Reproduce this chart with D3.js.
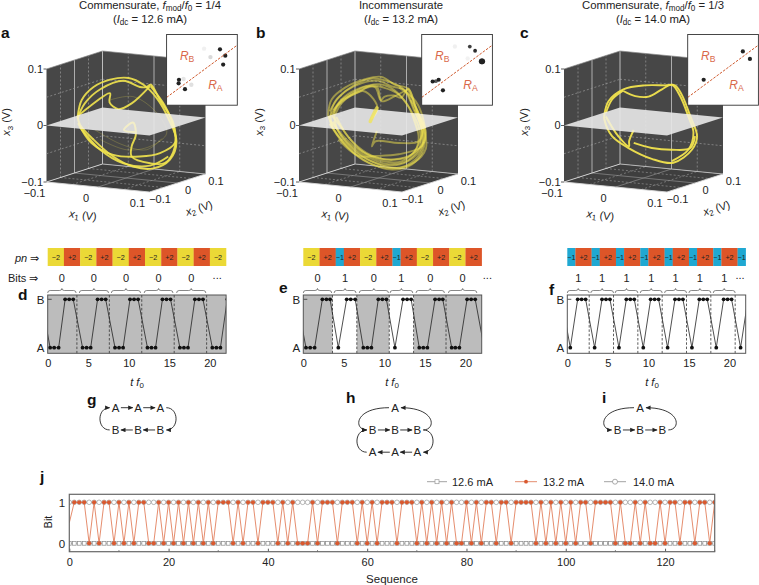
<!DOCTYPE html>
<html><head><meta charset="utf-8">
<style>html,body{margin:0;padding:0;background:#fff}svg{display:block}text{font-family:"Liberation Sans",Arial,sans-serif;fill:#222}</style>
<script src="https://cdn.jsdelivr.net/npm/d3@7"></script></head><body>
<script>
// ---------- DATA ----------
const axisTicks3D=[-0.1,0,0.1];
const gridValues=[-0.05,0,0.05];
// projected phase-space strands [x, x3] in mV
const strandsA=[
[[-94,8],[-86,38],[-63,61],[-31,74],[5,77],[34,65],[60,41],[82,6],[98,-35],[85,-68],[53,-83],[14,-80],[-25,-62],[-63,-32],[-89,-6],[-94,8]],
[[-94,6],[-80,32],[-50,57],[-5,72],[27,61],[40,61],[48,65],[66,38],[92,-3],[95,-44],[76,-73],[47,-74],[11,-62],[11,-44],[19,-24],[14,-2],[-4,-15],[21,-19]],
[[-94,9],[-70,27],[-31,50],[-32,34],[-15,22],[11,32],[47,63]],
[[-93,-3],[-67,-38],[-25,-59],[27,-62],[66,-56],[95,-38],[92,-9],[76,27],[48,62]],
[[-90,-9],[-50,-50],[-5,-74],[47,-78],[82,-62]]];
const faintA=[[[-50,-32],[1,-50],[47,-44],[79,-21],[60,15],[14,44],[-31,38]],[[-60,-15],[-10,-40],[40,-50],[70,-30]]];
const strandsB=[
[[-98,12],[-91,39],[-65,60],[-26,75],[6,79],[32,65],[58,58],[71,27],[87,-11],[87,-50],[65,-76],[26,-85],[-19,-73],[-58,-47],[-87,-14],[-98,12]],
[[-93,14],[-84,36],[-62,55],[-32,68],[0,72],[26,62],[52,55],[66,30],[82,-8],[84,-44],[58,-70],[20,-78],[-22,-67],[-62,-40],[-90,-8],[-93,14]],
[[-86,16],[-76,34],[-52,50],[-24,62],[-6,60],[4,38],[12,44],[30,46],[44,42],[58,58],[74,20],[90,-20],[92,-48],[70,-72],[30,-82],[-14,-70],[-52,-46],[-80,-14],[-86,16]],
[[-90,10],[-70,38],[-38,52],[-14,64],[10,60],[36,50],[56,30],[70,0],[78,-30],[66,-58],[28,-68],[-14,-60],[-50,-36],[-76,-6],[-90,10]],
[[-96,6],[-80,28],[-56,44],[-30,54],[-10,40],[-2,22],[-14,4]],
[[-78,-32],[-39,-61],[-6,-61],[39,-58],[84,-44],[92,-20],[78,15],[57,57]],
[[-3,-17],[-13,-44],[-6,-35],[39,-38],[78,-35],[87,-8],[71,21]],
[[-84,12],[-71,33],[-39,54],[-3,61],[6,36],[32,45],[57,57]],
[[-94,2],[-72,-22],[-44,-46],[-4,-64],[40,-66],[74,-52],[90,-30],[88,0],[72,36],[40,60]],
[[-88,20],[-66,44],[-34,60],[2,66],[30,56],[60,24],[80,-16],[80,-46],[50,-72],[10,-74],[-30,-58],[-68,-30],[-88,0]],
[[-95,18],[-78,42],[-48,64],[-12,76],[22,70],[50,56],[68,22],[86,-20],[82,-54],[54,-78],[14,-82],[-30,-68],[-70,-36],[-95,-4]],
[[-82,8],[-60,-26],[-30,-54],[8,-70],[46,-70],[76,-44],[84,-14],[76,18],[62,38]]];
const thickB=[[-16,0],[-10,12],[-3,24]];
const strandsC=[
[[-76,12],[-68,36],[-39,57],[3,64],[42,64],[61,64],[74,48],[91,9],[104,-26],[94,-50],[58,-73],[16,-66],[-29,-47],[-61,-26],[-76,4],[-76,12]],
[[-39,54],[-16,45],[10,44],[36,57],[55,65],[71,45],[87,9],[97,-20],[87,-50],[55,-70]],
[[-73,15],[-61,39],[-39,55]],
[[-73,9],[-49,-26],[-28,-44],[-28,-35],[-19,-15]],
[[-19,-38],[16,-47],[55,-50],[91,-47],[100,-26]]];
// return-map points [u, v, weight]
const insetA=[[.755,.79,1],[.83,.70,1],[.80,.575,1],[.175,.36,1],[.17,.31,1],[.26,.226,1],[.62,.68,.15],[.53,.8,.06],[.35,.29,.12],[.24,.37,.1]];
const insetB=[[.68,.83,.8],[.755,.77,.9],[.85,.62,1.4],[.855,.62,1.4],[.155,.335,1],[.24,.36,1],[.2,.34,.7],[.30,.21,1],[.47,.83,.06],[.65,.66,.05]];
const insetC=[[.78,.76,1],[.88,.655,1],[.226,.36,1]];
// pulse numbers
const pnD=[-2,2,-2,2,-2,2,-2,2,-2,2,-2];
const pnE=[-2,2,-1,2,-2,2,-1,2,-2,2,-2,2];
const pnF=[-1,2,-1,2,-1,2,-1,2,-1,2,-1,2,-1,2,-1];
const bitsD=[0,0,0,0,0], bitsE=[0,1,0,1,0,0], bitsF=[1,1,1,1,1,1,1];
const bracesD=[[0,3.5],[3.9,7.5],[7.85,11.45],[11.9,15.45],[15.9,19.5]];
const bracesE=[[0,3.5],[3.8,6.5],[6.9,10.5],[10.7,13.5],[13.9,17.4],[17.9,21.4]];
const bracesF=[[0,2.7],[2.9,5.7],[5.9,8.7],[9,11.7],[12,14.7],[15,17.7],[18,20.7]];
const boundsD=[3.6,7.6,11.6,15.6,19.6];
const boundsE=[3.6,6.6,10.6,13.6,17.6];
const boundsF=[2.7,5.7,8.7,11.7,14.7,17.7,20.7];
const shadeD=[[0,22]], shadeE=[[0,3.6],[6.6,10.6],[13.6,22]], shadeF=[];
const tD=[-0.8,.3,.8,1.35,2.15,2.65,3.15,4.3,4.8,5.3,6.15,6.65,7.15,8.3,8.8,9.3,10.15,10.65,11.15,12.3,12.8,13.3,14.15,14.65,15.15,16.3,16.8,17.3,18.15,18.65,19.15,20.3,20.8,21.3,22.15];
const sD=[1,0,0,0,1,1,1,0,0,0,1,1,1,0,0,0,1,1,1,0,0,0,1,1,1,0,0,0,1,1,1,0,0,0,1];
const tE=[-0.8,.33,.85,1.4,2.35,2.85,3.3,4.32,5.35,5.85,6.4,7.4,7.9,8.4,9.25,9.75,10.25,11.3,12.3,12.8,13.3,14.3,14.8,15.3,16.25,16.75,17.2,18.3,18.75,19.25,20.2,20.7,21.2,22.3];
const sE=[1,0,0,0,1,1,1,0,1,1,1,0,0,0,1,1,1,0,1,1,1,0,0,0,1,1,1,0,0,0,1,1,1,0];
const tF=[-0.7,.37,1.28,1.77,2.26,3.37,4.28,4.77,5.26,6.37,7.28,7.77,8.26,9.37,10.28,10.77,11.26,12.37,13.28,13.77,14.26,15.37,16.28,16.77,17.26,18.37,19.28,19.77,20.26,21.37,22.28];
const sF=[1,0,1,1,1,0,1,1,1,0,1,1,1,0,1,1,1,0,1,1,1,0,1,1,1,0,1,1,1,0,1];
const timeTicks=[0,5,10,15,20];
// state graphs
const graphG={nodes:[["A",0,0],["A",1,0],["A",2,0],["B",0,1],["B",1,1],["B",2,1]],
 straight:[[0,1,0],[1,2,0],[5,4,1],[4,3,1]],curved:[[2,5,1],[3,0,-1]]};
const graphH={nodes:[["A",1,0],["B",0,1],["B",1,1],["B",2,1],["A",2,2],["A",1,2],["A",0,2]],
 straight:[[1,2,1],[2,3,1],[4,5,0],[5,6,0]],curved:[[3,0,1],[0,1,-1],[3,4,1],[6,1,-1]]};
const graphI={nodes:[["A",1,0],["B",0,1],["B",1,1],["B",2,1]],
 straight:[[1,2,1],[2,3,1]],curved:[[3,0,1],[0,1,-1]]};
// panel j: sequence indices where the 13.2 mA bit is 0
const zeros132=[4,6,9,11,13,16,17,19,21,23,25,27,29,33,35,38,42,44,46,47,48,50,54,58,60,62,66,70,72,74,76,78,79,81,83,86,89,94,96,98,100,102,105,110,112,113,115,117,118,120,123,126,129];
const seqTicks=[0,20,40,60,80,100,120];
const seqMinor=[10,30,50,70,90,110,130];
const legendLabels=["12.6 mA","13.2 mA","14.0 mA"];

// ---------- STYLE ----------
const YEL="#f2e44e",RED="#dd5528",GOLD="#ebd936",BLUE="#1fa8d2",ORANGE="#d9684a";
const svg=d3.select("body").append("svg").attr("width",759).attr("height",585);
const defs=svg.append("defs");
defs.append("filter").attr("id","soft").append("feGaussianBlur").attr("stdDeviation",.45);
defs.append("marker").attr("id","arr").attr("viewBox","0 0 6 6").attr("refX",5.5).attr("refY",3)
 .attr("markerWidth",5.5).attr("markerHeight",5).attr("markerUnits","userSpaceOnUse").attr("orient","auto")
 .append("path").attr("d","M0,0.3L6,3L0,5.7Z").attr("fill","#222");
const minus=v=>String(v).replace("-","\u2212");
function rich(sel,parts){
  let wasSub=false;
  parts.forEach(p=>{
    const t=sel.append("tspan").text(p[0]);
    if(p[1])t.attr("font-style","italic");
    if(p[2]){t.attr("font-size","0.72em").attr("dy","0.28em");wasSub=true;}
    else if(wasSub){t.attr("dy","-0.2em");wasSub=false;}
  });
  return sel;
}
function label(x,y,size,anchor){return svg.append("text").attr("x",x).attr("y",y).attr("font-size",size).attr("text-anchor",anchor||"middle");}
[["a",1,38],["b",256,38],["c",520,38],["d",18,300],["e",279,293],["f",549,295],["g",87,405],["h",346,403],["i",602,403],["j",40,482]]
 .forEach(d=>label(d[1],d[2],15.5,"start").attr("font-weight","bold").style("fill","#111").text(d[0]));

// titles
rich(label(150,9,11.3),[["Commensurate, "],["f",1],["mod",0,1],["/"],["f",1],["0",0,1],[" = 1/4"]]);
rich(label(150,23,11.3),[["("],["I",1],["dc",0,1],[" = 12.6 mA)"]]);
label(401,9,11.3).text("Incommensurate");
rich(label(401,23,11.3),[["("],["I",1],["dc",0,1],[" = 13.2 mA)"]]);
rich(label(653,9,11.3),[["Commensurate, "],["f",1],["mod",0,1],["/"],["f",1],["0",0,1],[" = 1/3"]]);
rich(label(653,23,11.3),[["("],["I",1],["dc",0,1],[" = 14.0 mA)"]]);

// ---------- 3D PANELS ----------
const dxX1=d3.scaleLinear([-.1,.1],[-51.5,51.5]),dyX1=d3.scaleLinear([-.1,.1],[-5,5]);
const dxX2=d3.scaleLinear([-.1,.1],[-28,28]),dyX2=d3.scaleLinear([-.1,.1],[9,-9]);
const dzX3=d3.scaleLinear([-.1,.1],[56.5,-56.5]);
function panel3D(cx,strands,faint,thick,inset,insetLeft,width,opacity){
  const cy=121.5;
  const P=(a,b,c)=>[cx+dxX1(a)+dxX2(b),cy+dyX1(a)+dyX2(b)+dzX3(c)];
  const g=svg.append("g");
  const poly=(pts,fill)=>g.append("polygon").attr("points",pts.map(p=>p.join(",")).join(" ")).attr("fill",fill);
  const m=.1;
  poly([P(-m,-m,m),P(-m,m,m),P(-m,m,-m),P(-m,-m,-m)],"#474747");
  poly([P(-m,m,m),P(m,m,m),P(m,m,-m),P(-m,m,-m)],"#474747");
  poly([P(-m,-m,-m),P(-m,m,-m),P(m,m,-m),P(m,-m,-m)],"#3e3e3e");
  const seg=(a,b,col,w,dash)=>g.append("line").attr("x1",a[0]).attr("y1",a[1]).attr("x2",b[0]).attr("y2",b[1]).attr("stroke",col).attr("stroke-width",w).attr("stroke-dasharray",dash||null);
  gridValues.forEach(v=>{
    const solid=v===0,c=solid?"#b9b9b9":"#9a9a9a",w=solid?.9:.7,d=solid?null:"2,2";
    seg(P(-m,v,-m),P(-m,v,m),c,w,d);
    seg(P(v,m,-m),P(v,m,m),c,w,d);
    seg(P(v,-m,-m),P(v,m,-m),"#8e8e8e",.7,solid?null:"2,2");
    seg(P(-m,v,-m),P(m,v,-m),"#8e8e8e",.7,solid?null:"2,2");
    if(!solid){seg(P(-m,-m,v),P(-m,m,v),"#9a9a9a",.7,"2,2");seg(P(-m,m,v),P(m,m,v),"#9a9a9a",.7,"2,2");}
  });
  seg(P(-m,m,-m),P(-m,m,m),"#bdbdbd",1);
  seg(P(-m,-m,-m),P(m,-m,-m),"#d8d8d8",.9);
  seg(P(m,-m,-m),P(m,m,-m),"#d8d8d8",.9);
  seg(P(-m,-m,-m),P(-m,m,-m),"#d8d8d8",.9);
  seg(P(-m,m,-m),P(m,m,-m),"#bdbdbd",.9);
  seg(P(-m,-m,m),P(-m,m,m),"#8a8a8a",.7);
  seg(P(-m,m,m),P(m,m,m),"#8a8a8a",.7);
  // trajectory
  const ux=d3.scaleLinear([-100,100],[cx-51.5,cx+51.5]),uy=d3.scaleLinear([-100,100],[cy+56.5,cy-56.5]);
  const line=d3.line().x(d=>ux(d[0])).y(d=>uy(d[1])).curve(d3.curveCatmullRom.alpha(.5));
  g.selectAll(null).data(faint).join("path").attr("d",line).attr("fill","none").attr("stroke",YEL).attr("stroke-width",1).attr("opacity",.22);
  g.selectAll(null).data(strands).join("path").attr("d",line).attr("fill","none").attr("stroke",YEL).attr("stroke-width",width).attr("opacity",opacity).attr("stroke-linejoin","round");
  // x3 = 0 plane, semi-transparent with the trajectory showing pale through it
  const planePts=[P(-m,-m,0),P(-m,m,0),P(m,m,0),P(m,-m,0)];
  poly(planePts,"#e6e6e6").attr("opacity",.92);
  const pid="plane"+Math.round(cx);
  defs.append("clipPath").attr("id",pid).append("polygon").attr("points",planePts.map(p=>p.join(",")).join(" "));
  g.append("g").attr("clip-path",`url(#${pid})`).selectAll("path").data(strands).join("path").attr("d",line).attr("fill","none").attr("stroke","#fbf4ba").attr("stroke-width",width).attr("opacity",.6);
  if(thick)g.append("path").attr("d",line(thick)).attr("fill","none").attr("stroke",YEL).attr("stroke-width",3.5).attr("opacity",.75).attr("stroke-linecap","round");
  // ticks
  axisTicks3D.forEach(v=>{
    seg([P(-m,-m,v)[0]-3,P(-m,-m,v)[1]],P(-m,-m,v),"#333",.8);
    const l3=P(-m,-m,v);
    g.append("text").attr("x",l3[0]-3.5).attr("y",l3[1]).attr("dy",".35em").attr("font-size",11).attr("text-anchor","end").text(minus(v));
    const l1=P(v,-m,-m);
    g.append("text").attr("x",l1[0]-12).attr("y",l1[1]+11.5).attr("dy",".35em").attr("font-size",11).attr("text-anchor","middle").text(minus(v));
    const l2=P(m,v,-m);
    g.append("text").attr("x",l2[0]+10.5).attr("y",l2[1]+7).attr("dy",".35em").attr("font-size",11).attr("text-anchor","middle").text(minus(v));
  });
  const t3=g.append("text").attr("transform",`translate(${cx-119.5},122) rotate(-90)`).attr("font-size",11).attr("text-anchor","middle").attr("dy",".35em");
  rich(t3,[["x",1],["3",0,1],[" (V)"]]);
  const t1=g.append("text").attr("transform",`translate(${cx-43},215) rotate(7)`).attr("font-size",11).attr("text-anchor","middle").attr("dy",".35em");
  rich(t1,[["x",1],["1",0,1],[" (V)"]]);
  const t2=g.append("text").attr("transform",`translate(${cx+73},208) rotate(-17)`).attr("font-size",11).attr("text-anchor","middle").attr("dy",".35em");
  rich(t2,[["x",1],["2",0,1],[" (V)"]]);
  // inset
  const iy=34.5,s=70.7;
  const ix=d3.scaleLinear([0,1],[insetLeft,insetLeft+s]),iY=d3.scaleLinear([0,1],[iy+s,iy]);
  const ig=svg.append("g");
  ig.append("rect").attr("x",ix(0)).attr("y",iy).attr("width",s).attr("height",s).attr("fill","#fff");
  ig.selectAll("circle").data(inset).join("circle").attr("cx",d=>ix(d[0])).attr("cy",d=>iY(d[1]))
    .attr("r",d=>d[2]<.3?2.2:2.1*Math.max(d[2],.9)).attr("fill",d=>d[2]<1?`rgba(20,20,20,${d[2]})`:"#222").attr("filter","url(#soft)");
  ig.append("line").attr("x1",ix(0)).attr("y1",iY(.11)).attr("x2",ix(1)).attr("y2",iY(.85)).attr("stroke","#cf5a2e").attr("stroke-width",1).attr("stroke-dasharray","2.6,1.4");
  rich(ig.append("text").attr("x",ix(.29)).attr("y",iY(.69)).attr("dy",".3em").attr("font-size",12).attr("text-anchor","middle").style("fill",ORANGE),[["R",1],["B",0,1]]);
  rich(ig.append("text").attr("x",ix(.69)).attr("y",iY(.28)).attr("dy",".3em").attr("font-size",12).attr("text-anchor","middle").style("fill",ORANGE),[["R",1],["A",0,1]]);
  ig.append("rect").attr("x",ix(0)).attr("y",iy).attr("width",s).attr("height",s).attr("fill","none").attr("stroke","#333").attr("stroke-width",.9);
}
panel3D(126,strandsA,faintA,null,insetA,166.6,1.9,.9);
panel3D(378.5,strandsB,[],thickB,insetB,421.7,1.9,.5);
panel3D(643.5,strandsC,[],null,insetC,687.7,1.9,.95);

// ---------- TIME PANELS ----------
function timePanel(left,pn,bits,braces,bounds,shade,ts,ss,dotsX,tLabelX){
  const x=d3.scaleLinear([0,22],[left,left+178.4]);
  const y=d3.scaleLinear([0,1],[347.7,299.3]);
  const top=295,bottom=353.3;
  const g=svg.append("g");
  let acc=0;
  pn.forEach(v=>{
    const a=acc,b=acc+Math.abs(v);acc=b;
    g.append("rect").attr("x",x(a)).attr("y",248).attr("width",x(b)-x(a)+.2).attr("height",18)
      .attr("fill",v===-2?GOLD:v===2?RED:BLUE);
    g.append("text").attr("x",x((a+b)/2)).attr("y",257).attr("dy",".35em").attr("font-size",7.2).attr("text-anchor","middle").style("fill","#222")
      .text(v>0?"+"+v:minus(v));
  });
  braces.forEach((b,i)=>{
    const a0=x(b[0]),a1=x(b[1]),m=(a0+a1)/2,yy=289.5;
    g.append("path").attr("d",`M${a0},${yy+3.5}q0,-2.5 2.5,-2.5L${m-2.5},${yy+1}q2.5,0 2.5,-2q0,2 2.5,2L${a1-2.5},${yy+1}q2.5,0 2.5,2.5`)
      .attr("fill","none").attr("stroke","#555").attr("stroke-width",.7);
    g.append("text").attr("x",m).attr("y",278).attr("dy",".35em").attr("font-size",11).attr("text-anchor","middle").text(bits[i]);
  });
  g.append("text").attr("x",x(dotsX)).attr("y",278).attr("dy",".1em").attr("font-size",11).attr("text-anchor","middle").text("...");
  const cid="clip"+Math.round(left);
  defs.append("clipPath").attr("id",cid).append("rect").attr("x",x(0)).attr("y",top).attr("width",x(22)-x(0)).attr("height",bottom-top);
  shade.forEach(s=>g.append("rect").attr("x",x(s[0])).attr("y",top).attr("width",x(s[1])-x(s[0])).attr("height",bottom-top).attr("fill","#bcbcbc"));
  bounds.forEach(b=>g.append("line").attr("x1",x(b)).attr("x2",x(b)).attr("y1",top).attr("y2",bottom).attr("stroke","#333").attr("stroke-width",.8).attr("stroke-dasharray","2.5,1.8"));
  const pts=ts.map((t,i)=>[t,ss[i]]);
  const cg=g.append("g").attr("clip-path",`url(#${cid})`);
  cg.append("path").attr("d",d3.line().x(d=>x(d[0])).y(d=>y(d[1]))(pts)).attr("fill","none").attr("stroke","#222").attr("stroke-width",.8);
  cg.selectAll("circle").data(pts).join("circle").attr("cx",d=>x(d[0])).attr("cy",d=>y(d[1])).attr("r",1.9).attr("fill","#111");
  g.append("line").attr("x1",x(0)).attr("x2",x(0)+4).attr("y1",y(1)).attr("y2",y(1)).attr("stroke","#333").attr("stroke-width",.8);
  g.append("rect").attr("x",x(0)).attr("y",top).attr("width",x(22)-x(0)).attr("height",bottom-top).attr("fill","none").attr("stroke","#555").attr("stroke-width",1);
  const ax=g.append("g").attr("transform",`translate(0,${bottom})`).call(d3.axisBottom(x).tickValues(timeTicks).tickSize(0).tickPadding(5.5));
  ax.select(".domain").remove();
  ax.selectAll("text").attr("font-size",11).attr("font-family",null).style("fill","#222");
  g.append("text").attr("x",x(0)-7).attr("y",y(1)+.5).attr("dy",".35em").attr("font-size",11.5).attr("text-anchor","middle").text("B");
  g.append("text").attr("x",x(0)-7).attr("y",y(0)+.5).attr("dy",".35em").attr("font-size",11.5).attr("text-anchor","middle").text("A");
  rich(g.append("text").attr("x",tLabelX).attr("y",382).attr("dy",".35em").attr("font-size",11).attr("text-anchor","middle"),[["t f",1],["0",0,1]]);
}
timePanel(47.7,pnD,bitsD,bracesD,boundsD,shadeD,tD,sD,20.9,137);
timePanel(303.3,pnE,bitsE,bracesE,boundsE,shadeE,tE,sE,22.7,392);
timePanel(567.3,pnF,bitsF,bracesF,boundsF,shadeF,tF,sF,21.3,652);
rich(label(15,258,11,"start").attr("dy",".35em"),[["pn",1],[" \u21D2"]]);
label(8,278,11,"start").attr("dy",".35em").text("Bits \u21D2");

// ---------- STATE GRAPHS ----------
function graph(x0,G){
  const col=d3.scaleLinear([0,2],[x0,x0+44.6]),row=d3.scaleLinear([0,2],[407.7,452.2]);
  const g=svg.append("g");
  const n=G.nodes.map(d=>({t:d[0],x:col(d[1]),y:row(d[2])}));
  G.straight.forEach(e=>{
    const a=n[e[0]],b=n[e[1]],s=Math.sign(b.x-a.x);
    g.append("line").attr("x1",a.x+s*5.2).attr("x2",b.x-s*5.2).attr("y1",a.y).attr("y2",b.y)
      .attr("stroke",e[2]?"#555":"#222").attr("stroke-width",e[2]?1.2:.9).attr("marker-end","url(#arr)");
  });
  G.curved.forEach(e=>{
    const a=n[e[0]],b=n[e[1]],s=e[2];
    const sx=a.x+s*6,ex=b.x+s*6;
    const cx=(s>0?Math.max(sx,ex):Math.min(sx,ex))+s*13;
    g.append("path").attr("d",`M${sx},${a.y}C${cx},${a.y} ${cx},${b.y} ${ex},${b.y}`).attr("fill","none").attr("stroke","#222").attr("stroke-width",.9).attr("marker-end","url(#arr)");
  });
  g.selectAll("text").data(n).join("text").attr("x",d=>d.x).attr("y",d=>d.y).attr("dy",".36em").attr("font-size",11.5).attr("text-anchor","middle").text(d=>d.t);
}
graph(115.7,graphG);graph(372.7,graphH);graph(617.7,graphI);

// ---------- PANEL J ----------
const xJ=d3.scaleLinear([0,130],[69.3,714.7]);
const yJ=d3.scaleLinear([0,1],[543.3,502.3]);
const topJ=494.3,botJ=551.7;
const seq=d3.range(0,131);
const bits132=seq.map(n=>zeros132.includes(n)?0:1);
bits132[0]=0.5;
defs.append("clipPath").attr("id","clipJ").append("rect").attr("x",xJ(0)).attr("y",topJ).attr("width",xJ.range()[1]-xJ(0)).attr("height",botJ-topJ);
const jg=svg.append("g");
const jc=jg.append("g").attr("clip-path","url(#clipJ)");
jc.append("line").attr("x1",xJ(0)).attr("x2",xJ(130)).attr("y1",yJ(0)).attr("y2",yJ(0)).attr("stroke","#aaa").attr("stroke-width",.9);
jc.append("line").attr("x1",xJ(0)).attr("x2",xJ(130)).attr("y1",yJ(1)).attr("y2",yJ(1)).attr("stroke","#aaa").attr("stroke-width",.9);
jc.selectAll(null).data(seq).join("rect").attr("x",d=>xJ(d)-1.9).attr("y",yJ(0)-1.9).attr("width",3.8).attr("height",3.8).attr("fill","#fff").attr("stroke","#888").attr("stroke-width",.7);
jc.selectAll(null).data(seq).join("circle").attr("cx",d=>xJ(d)).attr("cy",yJ(1)).attr("r",2.3).attr("fill","#fff").attr("stroke","#888").attr("stroke-width",.6);
jc.append("path").attr("d",d3.line().x((d,i)=>xJ(i)).y(d=>yJ(d))(bits132)).attr("fill","none").attr("stroke","#e2805e").attr("stroke-width",.9);
jc.selectAll(null).data(seq.filter(n=>bits132[n]!==0.5)).join("circle").attr("cx",d=>xJ(d)).attr("cy",d=>yJ(bits132[d])).attr("r",2.1).attr("fill","#d9592f");
const jAxis=jg.append("g").attr("transform",`translate(0,${botJ})`).call(d3.axisBottom(xJ).tickValues(seqTicks).tickSize(-3).tickPadding(7));
jAxis.select(".domain").remove();
jAxis.selectAll("line").attr("stroke","#333").attr("stroke-width",.8);
jAxis.selectAll("text").attr("font-size",11).attr("font-family",null).style("fill","#222");
seqMinor.forEach(v=>jg.append("line").attr("x1",xJ(v)).attr("x2",xJ(v)).attr("y1",botJ).attr("y2",botJ-1.5).attr("stroke","#333").attr("stroke-width",.7));
jg.append("rect").attr("x",xJ(0)).attr("y",topJ).attr("width",xJ.range()[1]-xJ(0)).attr("height",botJ-topJ).attr("fill","none").attr("stroke","#666").attr("stroke-width",1.2);
label(62,yJ(1)+.5,11.5).attr("dy",".35em").text("1");
label(62,yJ(0)+.5,11.5).attr("dy",".35em").text("0");
svg.append("text").attr("transform","translate(48,522) rotate(-90)").attr("font-size",11).attr("text-anchor","middle").attr("dy",".35em").text("Bit");
label(392,579,11.5).attr("dy",".35em").text("Sequence");
// legend
const legY=481.7;
[[427,447,452],[515,537,543],[604,626,633]].forEach((l,i)=>{
  svg.append("line").attr("x1",l[0]).attr("x2",l[1]).attr("y1",legY).attr("y2",legY).attr("stroke",i===1?"#e2805e":"#999").attr("stroke-width",.9);
  const m=(l[0]+l[1])/2;
  if(i===0)svg.append("rect").attr("x",m-2).attr("y",legY-2).attr("width",4).attr("height",4).attr("fill","#fff").attr("stroke","#999").attr("stroke-width",.7);
  if(i===1)svg.append("circle").attr("cx",m).attr("cy",legY).attr("r",1.9).attr("fill","#d9592f");
  if(i===2)svg.append("circle").attr("cx",m).attr("cy",legY).attr("r",2.5).attr("fill","#fff").attr("stroke","#888").attr("stroke-width",.7);
  label(l[2],legY,11,"start").attr("dy",".35em").text(legendLabels[i]);
});
</script></body></html>
